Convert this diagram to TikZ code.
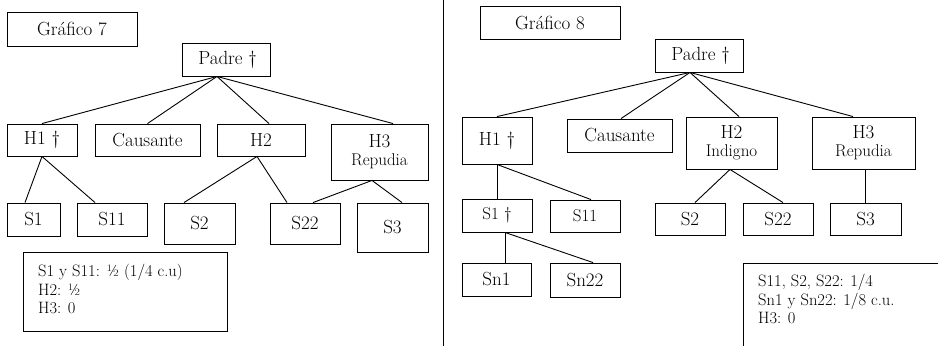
\documentclass[tikz,border=0pt]{standalone}
\usetikzlibrary{calc}
\begin{document}
\begin{tikzpicture}[x=1pt,y=-1pt,
  bx/.style={draw,line width=0.9pt,inner sep=0pt,align=center,font=\fontsize{19}{20}\selectfont},
  ln/.style={line width=0.9pt},
  sm/.style={font=\fontsize{17}{18}\selectfont},
  notes/.style={anchor=north west,align=left,inner sep=0pt,font=\fontsize{16.5}{18.5}\selectfont}]
\useasboundingbox (0,0) rectangle (938,346);

% ---------- Gráfico 7 ----------
\node[bx,minimum width=130pt,minimum height=34pt] (g7) at (72,29) {Gráfico 7};
\node[bx,minimum width=88pt,minimum height=33pt] (pa) at (226,59.5) {\,Padre †};
\node[bx,minimum width=70pt,minimum height=32pt] (h1) at (42,140) {H1 †};
\node[bx,minimum width=105pt,minimum height=32pt] (ca) at (147.5,140) {Causante};
\node[bx,minimum width=88pt,minimum height=32pt] (h2) at (261,140) {H2};
\node[bx,minimum width=97pt,minimum height=56pt] (h3) at (379.5,152) {H3\\[-2pt]{\fontsize{17}{18}\selectfont Repudia}};
\node[bx,minimum width=53pt,minimum height=33pt] (s1) at (33.5,219.5) {S1};
\node[bx,minimum width=70pt,minimum height=33pt] (s11) at (112,219.5) {S11};
\node[bx,minimum width=71pt,minimum height=41pt] (s2) at (199.5,223.5) {S2};
\node[bx,minimum width=70pt,minimum height=41pt] (s22) at (305,223.5) {S22};
\node[bx,minimum width=71pt,minimum height=49pt] (s3) at (392.5,227.5) {S3};
\node[draw,line width=0.9pt,minimum width=204pt,minimum height=79pt,inner sep=0pt] (nb7) at (125,291.5) {};
\node[notes] (nt7) at (38,264) {S1 y S11: ½ (1/4 c.u)\\H2: ½\\H3: 0};

\draw[ln] ([xshift=-9pt]pa.south) -- (h1.north);
\draw[ln] ([xshift=-9pt]pa.south) -- (ca.north);
\draw[ln] ([xshift=-9pt]pa.south) -- ([xshift=8pt]h2.north);
\draw[ln] ([xshift=-9pt]pa.south) -- ([xshift=13.5pt]h3.north);
\draw[ln] (h1.south) -- ([xshift=-8.5pt]s1.north);
\draw[ln] (h1.south) -- ([xshift=-17pt]s11.north);
\draw[ln] ([xshift=-4pt]h2.south) -- ([xshift=-15.5pt]s2.north);
\draw[ln] ([xshift=-4pt]h2.south) -- ([xshift=-18pt]s22.north);
\draw[ln] ([xshift=-7.5pt]h3.south) -- ([xshift=8pt]s22.north);
\draw[ln] ([xshift=-7.5pt]h3.south) -- ([xshift=9.5pt]s3.north);

% ---------- separator ----------
\coordinate (septop) at (443.5,0);
\coordinate (sepbot) at (443.5,346);
\draw[ln] (septop) -- (sepbot);

% ---------- Gráfico 8 ----------
\node[bx,minimum width=140pt,minimum height=33pt] (g8) at (550,22.5) {Gráfico 8};
\node[bx,minimum width=88pt,minimum height=33pt] (pb) at (699,55.5) {\,Padre †};
\node[bx,minimum width=70pt,minimum height=47pt] (k1) at (497,140.5) {H1 †};
\node[bx,minimum width=105pt,minimum height=33pt] (kc) at (619.5,135.5) {Causante};
\node[bx,minimum width=91pt,minimum height=52pt] (k2) at (731.5,143) {H2\\[-2pt]{\fontsize{17}{18}\selectfont Indigno}};
\node[bx,minimum width=103pt,minimum height=52pt] (k3) at (863.5,143) {H3\\[-2pt]{\fontsize{17}{18}\selectfont Repudia}};
\node[bx,minimum width=70pt,minimum height=33pt,sm] (t1) at (497,215.5) {S1 †};
\node[bx,minimum width=70pt,minimum height=32pt,sm] (t11) at (585,216) {S11};
\node[bx,minimum width=70pt,minimum height=32pt] (t2) at (690,219) {S2};
\node[bx,minimum width=70pt,minimum height=32pt] (t22) at (778,219) {S22};
\node[bx,minimum width=71pt,minimum height=32pt] (t3) at (865.5,219) {S3};
\node[bx,minimum width=69pt,minimum height=33pt] (n1) at (496.5,279.5) {Sn1};
\node[bx,minimum width=70pt,minimum height=34pt] (n22) at (585,280) {Sn22};
\coordinate (nb8a) at (938,263);
\coordinate (nb8b) at (743,263);
\coordinate (nb8c) at (743,346);
\draw[ln] (nb8a) -- (nb8b) -- (nb8c);
\node[notes] (nt8) at (758,274) {S11, S2, S22: 1/4\\Sn1 y Sn22: 1/8 c.u.\\H3: 0};

\draw[ln] ([xshift=-9pt]pb.south) -- (k1.north);
\draw[ln] ([xshift=-9pt]pb.south) -- ([xshift=1.5pt]kc.north);
\draw[ln] ([xshift=-9pt]pb.south) -- ([xshift=7.5pt]k2.north);
\draw[ln] ([xshift=-9pt]pb.south) -- ([xshift=-10.5pt]k3.north);
\draw[ln] (k1.south) -- (t1.north);
\draw[ln] (k1.south) -- ([xshift=6pt]t11.north);
\draw[ln] ([xshift=8pt]t1.south) -- ([xshift=8.5pt]n1.north);
\draw[ln] ([xshift=8pt]t1.south) -- ([xshift=8pt]n22.north);
\draw[ln] ([xshift=-1.5pt]k2.south) -- ([xshift=5pt]t2.north);
\draw[ln] ([xshift=-1.5pt]k2.south) -- ([xshift=5pt]t22.north);
\draw[ln] (t3.north |- k3.south) -- (t3.north);
\end{tikzpicture}
\end{document}
